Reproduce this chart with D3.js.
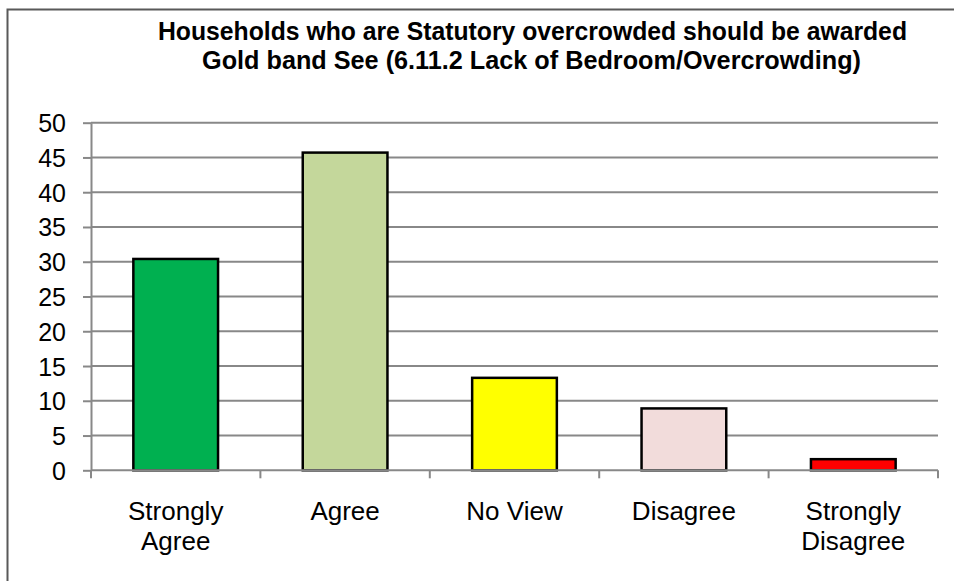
<!DOCTYPE html>
<html><head><meta charset="utf-8">
<script src="https://cdn.jsdelivr.net/npm/d3@7"></script>
<style>html,body{margin:0;padding:0;background:#fff;overflow:hidden}</style>
</head><body>
<script>
const categories = [["Strongly","Agree"],["Agree"],["No View"],["Disagree"],["Strongly","Disagree"]];
const values = [30.4, 45.7, 13.3, 8.9, 1.6];
const colors = ["#00B050","#C4D79B","#FFFF00","#F2DCDB","#FF0000"];
const yTicks = [0,5,10,15,20,25,30,35,40,45,50];
const titleLines = ["Households who are Statutory overcrowded should be awarded","Gold band See (6.11.2 Lack of Bedroom/Overcrowding)"];

(function(){
const W = 954, H = 581;
const svg = d3.select("body").append("svg").attr("width", W).attr("height", H);

svg.append("rect").attr("x", 7.5).attr("y", 9.5).attr("width", W + 20).attr("height", H + 20)
  .attr("fill", "none").attr("stroke", "#595959").attr("stroke-width", 2);

const pL = 91, pR = 938, pT = 122.7, pB = 470.3;
const x = d3.scaleBand().domain(d3.range(values.length)).range([pL, pR]).paddingInner(0.5).paddingOuter(0.25);
const xb = d3.scaleBand().domain(d3.range(values.length)).range([pL, pR]);
const y = d3.scaleLinear().domain([0, 50]).range([pB, pT]);

svg.append("g").selectAll("line").data(yTicks.filter(d => d > 0)).join("line")
  .attr("x1", pL).attr("x2", pR).attr("y1", d => y(d)).attr("y2", d => y(d))
  .attr("stroke", "#888").attr("stroke-width", 2);

const yAxis = svg.append("g").attr("transform", `translate(${pL},0)`)
  .call(d3.axisLeft(y).tickValues(yTicks).tickSize(8).tickPadding(17).tickSizeOuter(0));
yAxis.select(".domain").attr("stroke", "#888").attr("stroke-width", 2);
yAxis.selectAll(".tick line").attr("stroke", "#888").attr("stroke-width", 2);
yAxis.selectAll("text").attr("font-family", "Liberation Sans, Arial, sans-serif").attr("font-size", 25)
  .attr("fill", "#000").attr("dy", "0.36em");

svg.append("g").selectAll("rect").data(values).join("rect")
  .attr("x", (d, i) => x(i)).attr("width", x.bandwidth())
  .attr("y", d => y(d)).attr("height", d => y(0) - y(d))
  .attr("fill", (d, i) => colors[i]).attr("stroke", "#000").attr("stroke-width", 2.5);

const xg = svg.append("g");
xg.append("line").attr("x1", pL).attr("x2", pR).attr("y1", pB).attr("y2", pB)
  .attr("stroke", "#888").attr("stroke-width", 2);
const xTickPos = d3.range(values.length).map(i => xb(i)).concat([pR]);
xg.selectAll("line.t").data(xTickPos).join("line").attr("class", "t")
  .attr("x1", d => d).attr("x2", d => d).attr("y1", pB).attr("y2", pB + 8)
  .attr("stroke", "#888").attr("stroke-width", 2);
const lbl = xg.selectAll("text").data(categories).join("text")
  .attr("x", (d, i) => xb(i) + xb.bandwidth() / 2).attr("y", 520)
  .attr("text-anchor", "middle").attr("font-family", "Liberation Sans, Arial, sans-serif")
  .attr("font-size", 26).attr("fill", "#000");
lbl.selectAll("tspan").data(d => d).join("tspan")
  .attr("x", function() { return this.parentNode.getAttribute("x"); })
  .attr("dy", (d, i) => i === 0 ? 0 : 30).text(d => d);

const tl = [{t: titleLines[0], y: 40, x0: 158, x1: 907}, {t: titleLines[1], y: 69, x0: 202, x1: 861}];
svg.append("g").selectAll("text").data(tl).join("text")
  .attr("x", d => d.x0).attr("y", d => d.y).attr("font-family", "Liberation Sans, Arial, sans-serif")
  .attr("font-weight", "bold").attr("font-size", 25.5).attr("fill", "#000")
  .attr("textLength", d => d.x1 - d.x0).attr("lengthAdjust", "spacingAndGlyphs")
  .text(d => d.t);
})();
</script>
</body></html>
